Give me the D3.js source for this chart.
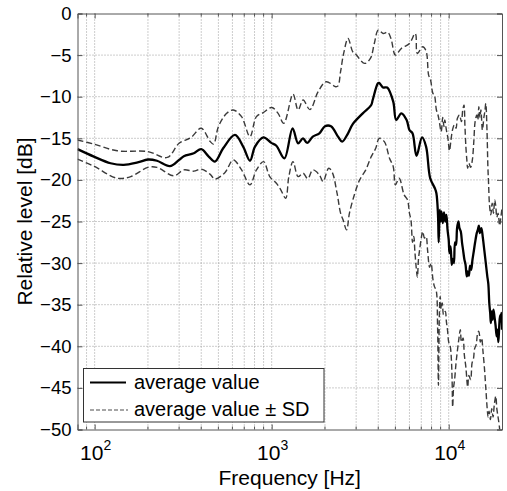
<!DOCTYPE html>
<html lang="en">
<head>
<meta charset="utf-8">
<title>Relative level vs frequency</title>
<script src="https://d3js.org/d3.v7.min.js"></script>
<style>
  body { margin: 0; background: #fff; }
  svg { display: block; font-family: "Liberation Sans", Arial, sans-serif; }
  .grid line { stroke: #9a9a9a; stroke-width: 1; stroke-dasharray: 1,2; }
  .axis path, .axis line { stroke: #555; }
</style>
</head>
<body>
<svg id="vis" width="507" height="491"></svg>
<script>

// average value, [Hz, dB]
var avgData = [
  [80,-16.3],[99,-17.2],[123,-18.0],[146,-18.2],[175,-17.9],[200,-17.55],[225,-17.7],[266,-18.35],[300,-17.6],[319,-17.15],
  [363,-16.8],[400,-16.3],[441,-17.2],[478,-17.8],[532,-16.2],[620,-14.6],[690,-16.0],[754,-17.7],[805,-16.0],[898,-14.9],
  [995,-15.55],[1063,-15.9],[1180,-17.4],[1312,-13.8],[1410,-15.6],[1503,-15.0],[1585,-15.55],[1708,-14.8],[1860,-14.4],[2000,-13.55],
  [2163,-13.55],[2370,-14.8],[2500,-15.4],[2700,-14.4],[2870,-13.3],[3270,-12.0],[3650,-11.0],[3720,-10.4],[3980,-8.4],[4045,-8.35],
  [4260,-8.9],[4490,-8.9],[4860,-10.6],[5050,-12.8],[5400,-12.0],[5785,-12.8],[6000,-14.0],[6245,-14.4],[6580,-17.1],[7070,-14.9],
  [7450,-16.0],[7860,-19.8],[8350,-21.0],[8520,-21.6],[8700,-24.2],[8780,-27.5],[8900,-23.6],[9000,-25.0],[9100,-23.8],[9250,-25.2],
  [9400,-23.9],[9550,-25.0],[9700,-24.2],[9850,-26.0],[10000,-27.2],[10100,-28.8],[10250,-28.0],[10400,-30.2],[10530,-29.5],[10700,-30.0],
  [10850,-27.5],[11000,-27.8],[11150,-25.8],[11340,-25.0],[11500,-25.8],[11700,-26.2],[11900,-27.6],[12050,-28.4],[12250,-29.5],[12450,-30.2],
  [12650,-31.6],[12800,-31.0],[13000,-31.5],[13200,-30.3],[13400,-30.8],[13620,-29.6],[13850,-28.6],[14100,-27.5],[14400,-26.4],[14600,-26.0],
  [14800,-25.5],[15000,-26.4],[15300,-25.8],[15600,-27.0],[15900,-28.5],[16200,-30.0],[16500,-31.5],[16740,-32.5],[16950,-34.8],[17150,-36.0],
  [17300,-37.2],[17500,-35.8],[17700,-36.8],[17900,-35.6],[18150,-36.5],[18400,-37.5],[18650,-38.8],[18850,-38.0],[19080,-39.5],[19300,-37.5],
  [19500,-36.3],[19700,-37.0],[19850,-36.0],[20000,-38.0]
];

// average value + SD
var upperData = [
  [80,-15.2],[99,-15.7],[134,-16.5],[200,-16.6],[257,-17.3],[300,-15.6],[350,-14.9],[400,-13.8],[450,-15.4],[470,-15.7],
  [500,-13.6],[557,-12.0],[607,-11.6],[676,-12.4],[754,-14.8],[820,-12.4],[898,-11.9],[1000,-11.3],[1087,-12.0],[1170,-13.2],
  [1320,-9.7],[1410,-11.6],[1505,-10.4],[1645,-11.55],[1830,-9.4],[2030,-8.2],[2300,-8.8],[2370,-8.7],[2450,-7.0],[2550,-4.8],
  [2700,-3.0],[2870,-4.6],[2960,-4.8],[3350,-6.0],[3610,-5.4],[3800,-3.6],[4000,-2.0],[4260,-2.4],[4520,-2.25],[4720,-3.0],
  [5000,-5.0],[5400,-4.2],[6000,-3.6],[6450,-2.4],[6530,-2.6],[6650,-4.8],[7130,-4.0],[7450,-4.5],[7700,-7.4],[7900,-8.0],
  [8140,-9.6],[8300,-9.8],[8520,-11.6],[8700,-12.2],[8850,-13.0],[9070,-14.2],[9250,-12.5],[9400,-13.6],[9500,-12.8],[9700,-14.0],
  [9900,-15.0],[10100,-16.5],[10300,-15.2],[10500,-14.0],[10750,-13.4],[11000,-13.8],[11200,-12.6],[11500,-12.2],[11800,-13.0],[12000,-11.6],
  [12200,-11.0],[12350,-13.5],[12500,-16.0],[12650,-17.5],[12800,-18.6],[13000,-18.0],[13300,-18.5],[13600,-17.6],[13850,-15.5],[14100,-13.0],
  [14400,-12.2],[14600,-12.8],[14800,-11.2],[15000,-12.5],[15200,-11.6],[15500,-14.0],[15800,-12.5],[16000,-11.8],[16200,-10.8],[16450,-14.0],
  [16650,-18.5],[16800,-20.5],[17000,-23.0],[17300,-24.2],[17600,-22.8],[17900,-24.0],[18200,-22.4],[18450,-23.2],[18700,-24.5],[19000,-24.0],
  [19400,-25.5],[19700,-24.5],[20000,-23.4]
];

// average value - SD
var lowerData = [
  [80,-17.5],[99,-18.35],[134,-19.8],[160,-19.6],[200,-18.5],[225,-18.5],[280,-19.5],[319,-18.8],[363,-18.95],[400,-18.7],
  [448,-19.3],[478,-19.9],[545,-19.1],[607,-17.6],[676,-18.8],[754,-20.6],[820,-18.8],[900,-17.8],[975,-19.6],[1063,-20.4],
  [1120,-21.1],[1200,-22.2],[1250,-19.6],[1320,-17.8],[1410,-19.6],[1505,-19.2],[1600,-19.85],[1708,-18.8],[1860,-19.4],[1950,-20.2],
  [2100,-18.6],[2200,-19.1],[2340,-21.6],[2450,-24.0],[2530,-24.8],[2650,-26.0],[2750,-24.0],[2950,-21.6],[3140,-20.0],[3400,-18.8],
  [3650,-17.2],[3870,-16.2],[4050,-15.0],[4330,-15.4],[4630,-17.4],[4860,-18.4],[5000,-20.6],[5250,-19.8],[5600,-21.8],[5850,-22.4],
  [6000,-24.0],[6120,-24.8],[6250,-27.5],[6350,-26.8],[6440,-28.6],[6550,-30.5],[6650,-31.7],[6750,-29.5],[6850,-28.4],[7000,-27.0],
  [7130,-26.2],[7300,-27.0],[7450,-26.8],[7600,-28.5],[7800,-30.5],[7950,-30.0],[8140,-31.9],[8300,-32.8],[8500,-33.3],[8650,-37.5],
  [8750,-44.7],[8850,-36.5],[8950,-34.0],[9070,-35.5],[9200,-34.8],[9350,-36.2],[9570,-35.8],[9700,-37.0],[9850,-38.1],[10000,-39.5],
  [10200,-40.0],[10350,-41.5],[10450,-44.0],[10530,-47.3],[10650,-45.0],[10800,-44.0],[11000,-42.0],[11200,-40.5],[11400,-39.2],[11630,-38.0],
  [11800,-39.5],[12050,-39.0],[12250,-41.0],[12500,-42.5],[12800,-44.9],[13000,-43.5],[13300,-44.0],[13550,-42.0],[13800,-41.5],[14000,-40.3],
  [14300,-39.8],[14550,-38.5],[14800,-38.2],[15100,-39.5],[15350,-39.0],[15600,-40.5],[15900,-42.5],[16200,-45.0],[16500,-47.5],[16700,-48.5],
  [16900,-47.8],[17200,-48.8],[17500,-47.5],[17800,-48.5],[18100,-47.0],[18450,-46.0],[18700,-47.5],[19000,-48.5],[19300,-49.5],[19600,-51.0],
  [20000,-52.0]
];

var yTicks = [0, -5, -10, -15, -20, -25, -30, -35, -40, -45, -50];
var xMajor = [100, 1000, 10000];
var xMajorLabels = ["2", "3", "4"];
var xMinor = [90, 200, 300, 400, 500, 600, 700, 800, 900, 2000, 3000, 4000, 5000, 6000, 7000, 8000, 9000];
var legendLabels = ["average value", "average value \u00b1 SD"];

var svg = d3.select("#vis"),
    margin = {top: 13.5, right: 5, bottom: 61.5, left: 77.5},
    width = +svg.attr("width") - margin.left - margin.right,
    height = +svg.attr("height") - margin.top - margin.bottom,
    g = svg.append("g").attr("transform", "translate(" + margin.left + "," + margin.top + ")");

var x = d3.scaleLog().domain([80, 20000]).range([0, width]);
var y = d3.scaleLinear().domain([-50, 0]).range([height, 0]);

svg.append("defs").append("clipPath").attr("id", "clip")
  .append("rect").attr("width", width).attr("height", height);

// grid
var grid = g.append("g").attr("class", "grid");
grid.selectAll(".gx").data(xMajor.concat(xMinor)).enter().append("line")
    .attr("x1", function(d) { return x(d); }).attr("x2", function(d) { return x(d); })
    .attr("y1", 0).attr("y2", height);
grid.selectAll(".gy").data(yTicks.slice(1, -1)).enter().append("line")
    .attr("x1", 0).attr("x2", width)
    .attr("y1", function(d) { return y(d); }).attr("y2", function(d) { return y(d); });

// curves
var line = d3.line()
    .x(function(d) { return x(d[0]); })
    .y(function(d) { return y(d[1]); })
    .curve(d3.curveCatmullRom.alpha(0.5));

var plot = g.append("g").attr("clip-path", "url(#clip)");
[upperData, lowerData].forEach(function(s) {
  plot.append("path").datum(s)
      .attr("d", line)
      .attr("fill", "none")
      .attr("stroke", "#3a3a3a")
      .attr("stroke-width", 1.4)
      .attr("stroke-dasharray", "6,3");
});
plot.append("path").datum(avgData)
    .attr("d", line)
    .attr("fill", "none")
    .attr("stroke", "#000")
    .attr("stroke-width", 2.3);

// axes (ticks pointing inward, box on)
g.append("g").attr("class", "axis")
    .call(d3.axisLeft(y).tickValues(yTicks).tickSize(-5).tickPadding(6)
      .tickFormat(function(d) { return d === 0 ? "0" : "\u2212" + Math.abs(d); }))
    .call(function(a) { a.selectAll("text").attr("fill", "#000").style("font-size", "18.5px").attr("font-family", null); });
g.append("g").attr("class", "axis").attr("transform", "translate(" + width + ",0)")
    .call(d3.axisRight(y).tickValues(yTicks).tickSize(-5).tickFormat(""));

g.append("g").attr("class", "axis").attr("transform", "translate(0," + height + ")")
    .call(d3.axisBottom(x).tickValues(xMajor).tickSize(-5).tickFormat(""))
    .call(function(a) { a.selectAll(".minor").data(xMinor).enter().append("line").attr("class", "minor")
      .attr("x1", function(d) { return x(d); }).attr("x2", function(d) { return x(d); })
      .attr("y1", 0).attr("y2", -3).attr("stroke", "#555"); });
g.append("g").attr("class", "axis")
    .call(d3.axisTop(x).tickValues(xMajor).tickSize(-5).tickFormat(""))
    .call(function(a) { a.selectAll(".minor").data(xMinor).enter().append("line").attr("class", "minor")
      .attr("x1", function(d) { return x(d); }).attr("x2", function(d) { return x(d); })
      .attr("y1", 0).attr("y2", 3).attr("stroke", "#555"); });

// 10^n labels
var xl = g.selectAll(".xlab").data(xMajor).enter().append("text")
    .attr("x", function(d) { return x(d) + 1; })
    .attr("y", height + 30)
    .attr("text-anchor", "middle")
    .style("font-size", "21px");
xl.append("tspan").text("10");
xl.append("tspan").attr("dy", -10).style("font-size", "14px").text(function(d, i) { return xMajorLabels[i]; });

// axis titles
g.append("text")
    .attr("x", width / 2)
    .attr("y", height + 55)
    .attr("text-anchor", "middle")
    .style("font-size", "21px")
    .text("Frequency [Hz]");
svg.append("text")
    .attr("transform", "translate(31.5," + (margin.top + height / 2) + ") rotate(-90)")
    .attr("text-anchor", "middle")
    .style("font-size", "21px")
    .text("Relative level [dB]");

// legend
var leg = svg.append("g").attr("transform", "translate(83.5,368.5)");
leg.append("rect").attr("width", 240.5).attr("height", 53.5)
    .attr("fill", "#fff").attr("stroke", "#333").attr("stroke-width", 1);
leg.append("line").attr("x1", 6.5).attr("x2", 42.5).attr("y1", 14).attr("y2", 14)
    .attr("stroke", "#000").attr("stroke-width", 2);
leg.append("line").attr("x1", 6.5).attr("x2", 44.5).attr("y1", 41.5).attr("y2", 41.5)
    .attr("stroke", "#888").attr("stroke-width", 1.3).attr("stroke-dasharray", "4,2");
leg.selectAll(".lt").data(legendLabels).enter().append("text")
    .attr("x", 50.5)
    .attr("y", function(d, i) { return 20.5 + i * 27; })
    .style("font-size", "20px")
    .text(function(d) { return d; });

</script>
</body>
</html>
